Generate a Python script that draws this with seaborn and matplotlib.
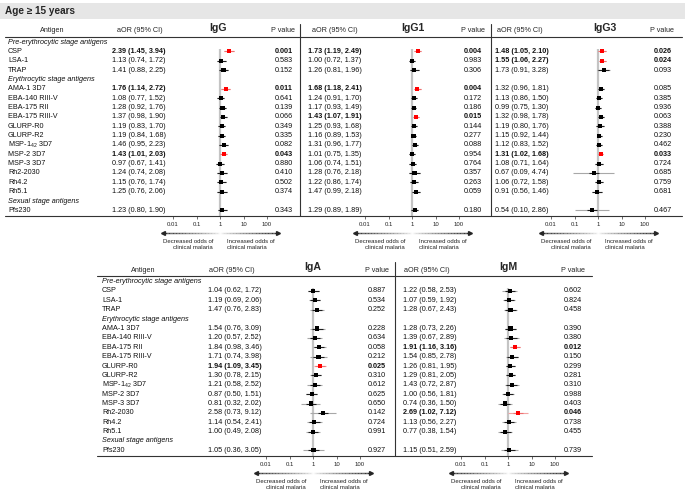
import numpy as np
import pandas as pd
import matplotlib
matplotlib.use("Agg")
import matplotlib.pyplot as plt
import matplotlib.transforms as mtransforms
from matplotlib.collections import LineCollection
from matplotlib.lines import Line2D
from matplotlib.patches import Rectangle
import seaborn as sns

# ---------------- data ----------------
section_labels = ["Pre-erythrocytic stage antigens", "Erythrocytic stage antigens", "Sexual stage antigens"]
section_rows = [0, 4, 17]
antigens = ["CSP", "LSA-1", "TRAP", "AMA-1 3D7", "EBA-140 RIII-V", "EBA-175 RII", "EBA-175 RIII-V",
            "GLURP-R0", "GLURP-R2", "MSP-1$_{42}$ 3D7", "MSP-2 3D7", "MSP-3 3D7", "Rh2-2030", "Rh4.2",
            "Rh5.1", "Pfs230"]
antigen_rows = [1, 2, 3, 5, 6, 7, 8, 9, 10, 11, 12, 13, 14, 15, 16, 18]

igg_aor = [2.39, 1.13, 1.41, 1.76, 1.08, 1.28, 1.37, 1.19, 1.19, 1.46, 1.43, 0.97, 1.24, 1.15, 1.25, 1.23]
igg_lo = [1.45, 0.74, 0.88, 1.14, 0.77, 0.92, 0.98, 0.83, 0.84, 0.95, 1.01, 0.67, 0.74, 0.76, 0.76, 0.80]
igg_hi = [3.94, 1.72, 2.25, 2.72, 1.52, 1.76, 1.90, 1.70, 1.68, 2.23, 2.03, 1.41, 2.08, 1.74, 2.06, 1.90]
igg_p = [0.001, 0.583, 0.152, 0.011, 0.641, 0.139, 0.066, 0.349, 0.335, 0.082, 0.043, 0.880, 0.410, 0.502, 0.374, 0.343]

igg1_aor = [1.73, 1.00, 1.26, 1.68, 1.24, 1.17, 1.43, 1.25, 1.16, 1.31, 1.01, 1.06, 1.28, 1.22, 1.47, 1.29]
igg1_lo = [1.19, 0.72, 0.81, 1.18, 0.91, 0.93, 1.07, 0.93, 0.89, 0.96, 0.75, 0.74, 0.76, 0.86, 0.99, 0.89]
igg1_hi = [2.49, 1.37, 1.96, 2.41, 1.70, 1.49, 1.91, 1.68, 1.53, 1.77, 1.35, 1.51, 2.18, 1.74, 2.18, 1.89]
igg1_p = [0.004, 0.983, 0.306, 0.004, 0.172, 0.186, 0.015, 0.144, 0.277, 0.088, 0.954, 0.764, 0.357, 0.263, 0.059, 0.180]

igg3_aor = [1.48, 1.55, 1.73, 1.32, 1.13, 0.99, 1.32, 1.19, 1.15, 1.12, 1.31, 1.08, 0.67, 1.06, 0.91, 0.54]
igg3_lo = [1.05, 1.06, 0.91, 0.96, 0.86, 0.75, 0.98, 0.80, 0.92, 0.83, 1.02, 0.71, 0.09, 0.72, 0.56, 0.10]
igg3_hi = [2.10, 2.27, 3.28, 1.81, 1.50, 1.30, 1.78, 1.76, 1.44, 1.52, 1.68, 1.64, 4.74, 1.58, 1.46, 2.86]
igg3_p = [0.026, 0.024, 0.093, 0.085, 0.385, 0.936, 0.063, 0.388, 0.230, 0.462, 0.033, 0.724, 0.685, 0.759, 0.681, 0.467]

iga_aor = [1.04, 1.19, 1.47, 1.54, 1.20, 1.84, 1.71, 1.94, 1.30, 1.21, 0.87, 0.81, 2.58, 1.14, 1.00, 1.05]
iga_lo = [0.62, 0.69, 0.76, 0.76, 0.57, 0.98, 0.74, 1.09, 0.78, 0.58, 0.50, 0.32, 0.73, 0.54, 0.49, 0.36]
iga_hi = [1.72, 2.06, 2.83, 3.09, 2.52, 3.46, 3.98, 3.45, 2.15, 2.52, 1.51, 2.02, 9.12, 2.41, 2.08, 3.05]
iga_p = [0.887, 0.534, 0.252, 0.228, 0.634, 0.058, 0.212, 0.025, 0.310, 0.612, 0.625, 0.650, 0.142, 0.724, 0.991, 0.927]

igm_aor = [1.22, 1.07, 1.28, 1.28, 1.39, 1.91, 1.54, 1.26, 1.29, 1.43, 1.00, 0.74, 2.69, 1.13, 0.77, 1.15]
igm_lo = [0.58, 0.59, 0.67, 0.73, 0.67, 1.16, 0.85, 0.81, 0.81, 0.72, 0.56, 0.36, 1.02, 0.56, 0.38, 0.51]
igm_hi = [2.53, 1.92, 2.43, 2.26, 2.89, 3.16, 2.78, 1.95, 2.05, 2.87, 1.81, 1.50, 7.12, 2.27, 1.54, 2.59]
igm_p = [0.602, 0.824, 0.458, 0.390, 0.380, 0.012, 0.150, 0.299, 0.281, 0.310, 0.988, 0.403, 0.046, 0.738, 0.455, 0.739]

tick_values = [0.01, 0.1, 1, 10, 100]
tick_labels = ["0.01", "0.1", "1", "10", "100"]
age_title = "Age \u2265 15 years"

# ---------------- style ----------------
sns.set_theme(style="white")
plt.rcParams["font.family"] = ["Liberation Sans", "DejaVu Sans"]
plt.rcParams["mathtext.fontset"] = "custom"
plt.rcParams["mathtext.rm"] = "Liberation Sans"
plt.rcParams["mathtext.it"] = "Liberation Sans:italic"
plt.rcParams["mathtext.bf"] = "Liberation Sans:bold"
plt.rcParams["mathtext.default"] = "regular"

W, H = 685, 496
fig = plt.figure(figsize=(W / 100, H / 100), dpi=100)
fig.patch.set_facecolor("white")


def fx(x):
    return x / W


def fy(y):
    return 1 - y / H


FS = 5.2
SMALL = 4.3
DEC = 23.5
NEAR = 10 ** 0.22

# header band
fig.add_artist(Rectangle((0, fy(19)), 1, (19 - 3) / H, transform=fig.transFigure,
                         facecolor="#e6e6e6", edgecolor="none"))
fig.text(fx(5), fy(11), age_title, fontsize=7.2, fontweight="bold", va="center", ha="left")


def hline(x1, x2, y, lw=0.8, color="#333333"):
    fig.add_artist(Line2D([fx(x1), fx(x2)], [fy(y), fy(y)], transform=fig.transFigure, lw=lw, color=color))


def vline(x, y1, y2, lw=0.8, color="#333333"):
    fig.add_artist(Line2D([fx(x), fx(x)], [fy(y1), fy(y2)], transform=fig.transFigure, lw=lw, color=color))


panels = [
    dict(name="IgG", aor=igg_aor, lo=igg_lo, hi=igg_hi, p=igg_p, center=220, aor_left=112, aor_hdr=140,
         p_right=293, p_hdr=283, title_x=218, antigen_x=8, antigen_hdr=52, top=36.5, bot=216),
    dict(name="IgG1", aor=igg1_aor, lo=igg1_lo, hi=igg1_hi, p=igg1_p, center=412, aor_left=308, aor_hdr=335,
         p_right=482, p_hdr=473, title_x=413, antigen_x=None, antigen_hdr=None, top=36.5, bot=216),
    dict(name="IgG3", aor=igg3_aor, lo=igg3_lo, hi=igg3_hi, p=igg3_p, center=598, aor_left=495, aor_hdr=520,
         p_right=672, p_hdr=662, title_x=605, antigen_x=None, antigen_hdr=None, top=36.5, bot=216),
    dict(name="IgA", aor=iga_aor, lo=iga_lo, hi=iga_hi, p=iga_p, center=313, aor_left=208, aor_hdr=232,
         p_right=386, p_hdr=377, title_x=313, antigen_x=102, antigen_hdr=143, top=276, bot=456),
    dict(name="IgM", aor=igm_aor, lo=igm_lo, hi=igm_hi, p=igm_p, center=508, aor_left=403, aor_hdr=427,
         p_right=582, p_hdr=573, title_x=508, antigen_x=None, antigen_hdr=None, top=276, bot=456),
]

for pn in panels:
    left = pn["center"] - 2.5 * DEC
    top, bot = pn["top"], pn["bot"]
    ax = fig.add_axes([fx(left), fy(bot), 5 * DEC / W, (bot - top) / H])
    ax.set_facecolor("none")
    df = pd.DataFrame({"aor": pn["aor"], "lo": pn["lo"], "hi": pn["hi"], "p": pn["p"],
                       "row": antigen_rows, "antigen": antigens})
    df["sig"] = df["p"] < 0.05
    ax.set_xscale("log")
    # reference line at 1
    ax.plot([1, 1], [0.7, 18.6], color="#c4c4c4", lw=1.6, zorder=1, solid_capstyle="butt")
    # CIs: light full line, darker near the estimate
    far_colors = ["#f4a3a3" if s else "#a8a8a8" for s in df["sig"]]
    near_colors = ["#ee7070" if s else "#1e1e1e" for s in df["sig"]]
    ax.hlines(df["row"], df["lo"], df["hi"], colors=far_colors, lw=0.8, zorder=2)
    near_lo = np.maximum(df["lo"], df["aor"] / NEAR)
    near_hi = np.minimum(df["hi"], df["aor"] * NEAR)
    ax.hlines(df["row"], near_lo, near_hi, colors=near_colors, lw=0.8, zorder=2)
    sns.scatterplot(data=df, x="aor", y="row", hue="sig", palette={True: "#ff0000", False: "#000000"},
                    marker="s", s=8.5, linewidth=0, legend=False, ax=ax, zorder=3)
    ax.set_xlim(10 ** -2.5, 10 ** 2.5)
    ax.set_ylim(18.6, -0.6)
    ax.set_xlabel("")
    ax.set_ylabel("")
    ax.set_yticks([])
    ax.set_xticks(tick_values)
    ax.set_xticklabels(tick_labels)
    ax.minorticks_off()
    ax.tick_params(axis="x", length=2.5, width=0.6, color="#555555", labelsize=SMALL, pad=1.6,
                   labelcolor="#222222", bottom=True)
    for s in ax.spines.values():
        s.set_visible(False)

    tr = mtransforms.blended_transform_factory(fig.transFigure, ax.transData)
    # table text
    for i, r in enumerate(antigen_rows):
        bold = "bold" if df["sig"][i] else "normal"
        txt = f"{pn['aor'][i]:.2f} ({pn['lo'][i]:.2f}, {pn['hi'][i]:.2f})"
        ax.text(fx(pn["aor_left"]), r, txt, transform=tr, fontsize=FS, fontweight=bold,
                ha="left", va="center", color="#111111")
        ax.text(fx(pn["p_right"]), r, f"{pn['p'][i]:.3f}", transform=tr, fontsize=FS, fontweight=bold,
                ha="right", va="center", color="#111111")
        if pn["antigen_x"] is not None:
            ax.text(fx(pn["antigen_x"]), r, antigens[i], transform=tr, fontsize=FS, ha="left",
                    va="center", color="#111111")
    if pn["antigen_x"] is not None:
        for lab, r in zip(section_labels, section_rows):
            ax.text(fx(pn["antigen_x"]), r, lab, transform=tr, fontsize=FS, style="italic",
                    ha="left", va="center", color="#111111")
        fig.text(fx(pn["antigen_hdr"]), fy(top - 5.5), "Antigen", fontsize=FS, ha="center", va="center")
    # headers
    fig.text(fx(pn["aor_hdr"]), fy(top - 5.5), "aOR (95% CI)", fontsize=FS, ha="center", va="center")
    fig.text(fx(pn["p_hdr"]), fy(top - 5.5), "P value", fontsize=FS, ha="center", va="center")
    fig.text(fx(pn["title_x"]), fy(top - 8.5), pn["name"], fontsize=7.6, fontweight="bold",
             ha="center", va="center")

    # gradient arrow
    ay = bot + 17
    x1, x2 = left + 1, left + 5 * DEC
    n = 80
    xs = np.linspace(x1, x2, n + 1)
    segs = [[(fx(xs[k]), fy(ay)), (fx(xs[k + 1]), fy(ay))] for k in range(n)]
    mids = (xs[:-1] + xs[1:]) / 2
    t = np.abs(mids - pn["center"]) / (2.5 * DEC)
    grey = 1 - np.clip(t, 0, 1) ** 0.7 * 0.85
    cols = [(g, g, g) for g in grey]
    fig.add_artist(LineCollection(segs, colors=cols, linewidths=1.0, transform=fig.transFigure))
    fig.add_artist(Line2D([fx(x1 + 1)], [fy(ay)], marker="<", markersize=2.8, color="#262626",
                          transform=fig.transFigure, linestyle="none"))
    fig.add_artist(Line2D([fx(x2 - 1)], [fy(ay)], marker=">", markersize=2.8, color="#262626",
                          transform=fig.transFigure, linestyle="none"))
    fig.text(fx(pn["center"] - 7), fy(ay + 6), "Decreased odds of\nclinical malaria", fontsize=SMALL,
             ha="right", va="top", multialignment="right", linespacing=1.15, color="#222222")
    fig.text(fx(pn["center"] + 7), fy(ay + 6), "Increased odds of\nclinical malaria", fontsize=SMALL,
             ha="left", va="top", multialignment="left", linespacing=1.15, color="#222222")

# table rules
hline(5, 682, 36.5)
hline(5, 682, 216)
vline(300, 24, 216)
vline(491, 24, 216)
hline(97, 592, 276)
hline(97, 592, 456)
vline(395, 262, 456)

fig.savefig("out.png", dpi=100)
